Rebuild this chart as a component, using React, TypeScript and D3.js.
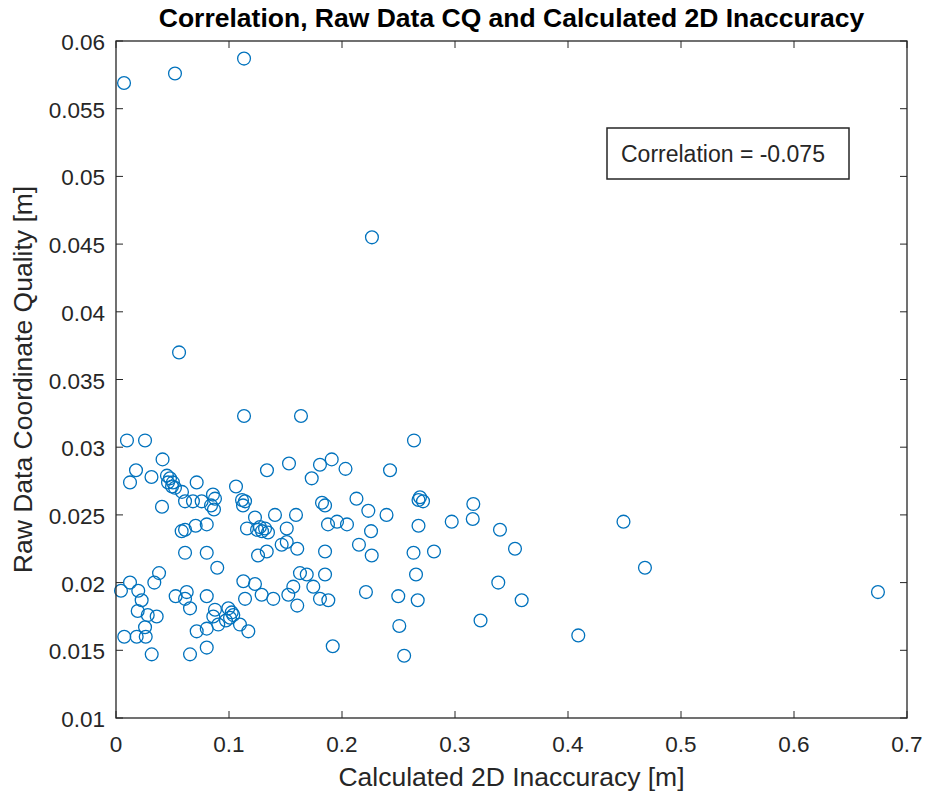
import React from "react";
import * as d3 from "d3";

const xTicks = [0, 0.1, 0.2, 0.3, 0.4, 0.5, 0.6, 0.7];
const yTicks = [0.01, 0.015, 0.02, 0.025, 0.03, 0.035, 0.04, 0.045, 0.05, 0.055, 0.06];
const xTickLabels = ["0", "0.1", "0.2", "0.3", "0.4", "0.5", "0.6", "0.7"];
const yTickLabels = ["0.01", "0.015", "0.02", "0.025", "0.03", "0.035", "0.04", "0.045", "0.05", "0.055", "0.06"];

const inaccuracy = [
  0.0071, 0.0522, 0.1133, 0.2265, 0.0558, 0.1133, 0.1637, 0.0097, 0.0257, 0.2637,
  0.0412, 0.1909, 0.0177, 0.0124, 0.0314, 0.0451, 0.0478, 0.0460, 0.0504, 0.0496,
  0.0522, 0.0714, 0.0584, 0.0611, 0.0681, 0.0758, 0.0858, 0.0876, 0.0841, 0.0867,
  0.0407, 0.1062, 0.1115, 0.1142, 0.1124, 0.1336, 0.1531, 0.1805, 0.2031, 0.1732,
  0.2425, 0.1823, 0.1850, 0.2128, 0.2233, 0.2394, 0.2677, 0.2717, 0.2690, 0.1407,
  0.1593, 0.2677, 0.1230, 0.1274, 0.1876, 0.1956, 0.2044, 0.2257, 0.1159, 0.1248,
  0.1292, 0.1319, 0.1345, 0.1511, 0.2150, 0.2263, 0.2633, 0.2814, 0.1257, 0.1334,
  0.1466, 0.1511, 0.1604, 0.1850, 0.2655, 0.1127, 0.1230, 0.1142, 0.1289, 0.1392,
  0.1525, 0.1569, 0.1628, 0.1688, 0.1850, 0.1746, 0.1805, 0.1879, 0.1604, 0.2212,
  0.2498, 0.2670, 0.2507, 0.1171, 0.1918, 0.2550, 0.3162, 0.3157, 0.2971, 0.3398,
  0.3531, 0.3383, 0.3590, 0.3226, 0.4091, 0.4491, 0.4681, 0.6743, 0.0581, 0.0611,
  0.0705, 0.0803, 0.0611, 0.0803, 0.0896, 0.0381, 0.0339, 0.0124, 0.0044, 0.0197,
  0.0227, 0.0192, 0.0281, 0.0360, 0.0528, 0.0626, 0.0611, 0.0655, 0.0803, 0.0876,
  0.0861, 0.0994, 0.1024, 0.1009, 0.0973, 0.0905, 0.1097, 0.0714, 0.0803, 0.0257,
  0.0073, 0.0183, 0.0263, 0.0316, 0.0655, 0.0803, 0.1038,
];

const coordQuality = [
  0.0569, 0.0576, 0.0587, 0.0455, 0.0370, 0.0323, 0.0323, 0.0305, 0.0305, 0.0305,
  0.0291, 0.0291, 0.0283, 0.0274, 0.0278, 0.0279, 0.0277, 0.0274, 0.0274, 0.0271,
  0.0270, 0.0274, 0.0267, 0.0260, 0.0260, 0.0260, 0.0265, 0.0262, 0.0257, 0.0254,
  0.0256, 0.0271, 0.0261, 0.0260, 0.0257, 0.0283, 0.0288, 0.0287, 0.0284, 0.0277,
  0.0283, 0.0259, 0.0257, 0.0262, 0.0253, 0.0250, 0.0261, 0.0260, 0.0263, 0.0250,
  0.0250, 0.0242, 0.0248, 0.0241, 0.0243, 0.0245, 0.0243, 0.0238, 0.0240, 0.0239,
  0.0238, 0.0240, 0.0237, 0.0240, 0.0228, 0.0220, 0.0222, 0.0223, 0.0220, 0.0223,
  0.0228, 0.0230, 0.0225, 0.0223, 0.0206, 0.0201, 0.0199, 0.0188, 0.0191, 0.0188,
  0.0191, 0.0197, 0.0207, 0.0206, 0.0206, 0.0197, 0.0188, 0.0187, 0.0183, 0.0193,
  0.0190, 0.0187, 0.0168, 0.0164, 0.0153, 0.0146, 0.0258, 0.0247, 0.0245, 0.0239,
  0.0225, 0.0200, 0.0187, 0.0172, 0.0161, 0.0245, 0.0211, 0.0193, 0.0238, 0.0239,
  0.0242, 0.0243, 0.0222, 0.0222, 0.0211, 0.0207, 0.0200, 0.0200, 0.0194, 0.0194,
  0.0187, 0.0179, 0.0176, 0.0175, 0.0190, 0.0193, 0.0188, 0.0181, 0.0190, 0.0180,
  0.0175, 0.0181, 0.0178, 0.0174, 0.0172, 0.0169, 0.0169, 0.0164, 0.0166, 0.0167,
  0.0160, 0.0160, 0.0160, 0.0147, 0.0147, 0.0152, 0.0176,
];

const titleText = "Correlation, Raw Data CQ and Calculated 2D Inaccuracy";
const xLabelText = "Calculated 2D Inaccuracy [m]";
const yLabelText = "Raw Data Coordinate Quality [m]";
const annotationText = "Correlation = -0.075";

export default function App() {
  const W = 925;
  const H = 799;
  const left = 116;
  const right = 907;
  const top = 41;
  const bottom = 718;
  const x = d3.scaleLinear().domain([0, 0.7]).range([left, right]);
  const y = d3.scaleLinear().domain([0.01, 0.06]).range([bottom, top]);
  const axisColor = "#262626";
  const font = "'Liberation Sans', Arial, Helvetica, sans-serif";
  const tickLen = 7;
  const tickFont = 22.5;
  const labelFont = 26.5;
  const points = inaccuracy.map((v, i) => [v, coordQuality[i]]);

  return (
    <svg
      width={W}
      height={H}
      style={{ position: "absolute", left: 0, top: 0, background: "#fff" }}
      fontFamily={font}
    >
      <rect x={0} y={0} width={W} height={H} fill="#fff" />
      <g>
        {points.map((p, i) => (
          <circle
            key={i}
            cx={x(p[0])}
            cy={y(p[1])}
            r={6.4}
            fill="none"
            stroke="#0072BD"
            strokeWidth={1.3}
          />
        ))}
      </g>
      <rect
        x={left}
        y={top}
        width={right - left}
        height={bottom - top}
        fill="none"
        stroke={axisColor}
        strokeWidth={1.3}
      />
      {xTicks.map((t, i) => (
        <g key={"xt" + i}>
          <line x1={x(t)} x2={x(t)} y1={bottom} y2={bottom - tickLen} stroke={axisColor} strokeWidth={1} />
          <line x1={x(t)} x2={x(t)} y1={top} y2={top + tickLen} stroke={axisColor} strokeWidth={1} />
          <text x={x(t)} y={bottom + 34} textAnchor="middle" fontSize={tickFont} fill={axisColor}>
            {xTickLabels[i]}
          </text>
        </g>
      ))}
      {yTicks.map((t, i) => (
        <g key={"yt" + i}>
          <line x1={left} x2={left + tickLen} y1={y(t)} y2={y(t)} stroke={axisColor} strokeWidth={1} />
          <line x1={right} x2={right - tickLen} y1={y(t)} y2={y(t)} stroke={axisColor} strokeWidth={1} />
          <text x={left - 11} y={y(t) + 9} textAnchor="end" fontSize={tickFont} fill={axisColor}>
            {yTickLabels[i]}
          </text>
        </g>
      ))}
      <text x={(left + right) / 2} y={27} textAnchor="middle" fontSize={26.5} fontWeight="bold" fill="#000">
        {titleText}
      </text>
      <text x={(left + right) / 2} y={786} textAnchor="middle" fontSize={labelFont} fill={axisColor}>
        {xLabelText}
      </text>
      <text
        transform={`translate(32, ${(top + bottom) / 2}) rotate(-90)`}
        textAnchor="middle"
        fontSize={labelFont}
        fill={axisColor}
      >
        {yLabelText}
      </text>
      <rect x={607} y={128} width={242} height={51} fill="#fff" stroke={axisColor} strokeWidth={1.5} />
      <text x={621} y={162} fontSize={23} fill={axisColor}>
        {annotationText}
      </text>
    </svg>
  );
}
